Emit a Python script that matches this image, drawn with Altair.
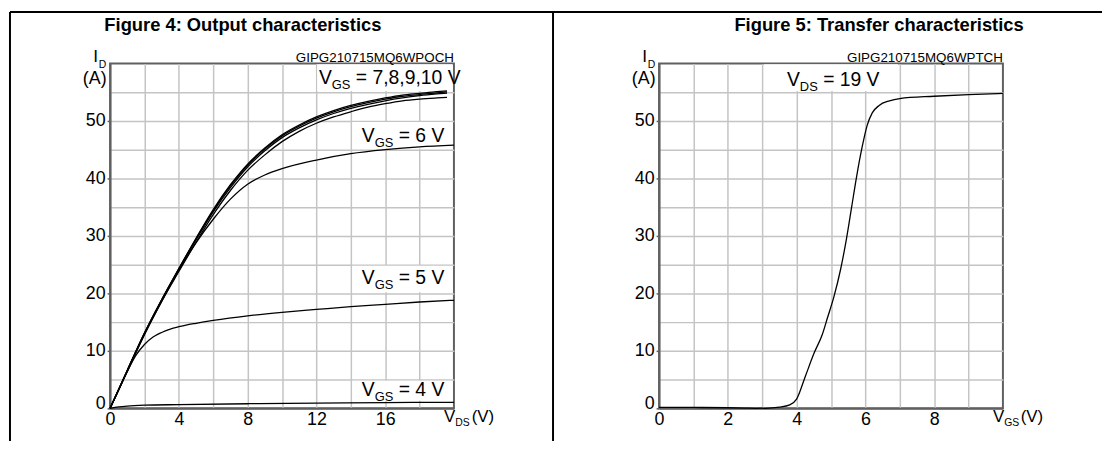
import altair as alt
import pandas as pd

# ---------------- data ----------------
# Figure 4: output characteristics, I_D (A) vs V_DS (V)
VDS_HI = [0, 1, 2, 3, 4, 5, 6, 7, 8, 9, 10, 11, 12, 13, 14, 15, 16, 17, 18, 19, 19.6]
ID_VGS10 = [0, 6.6, 13.1, 18.9, 24.3, 29.6, 34.6, 38.9, 42.5, 45.3, 47.6, 49.3, 50.7, 51.8, 52.7, 53.4, 54.0, 54.5, 54.8, 55.1, 55.25]
ID_VGS9 = [0, 6.6, 13.1, 18.9, 24.3, 29.5, 34.4, 38.7, 42.3, 45.1, 47.4, 49.1, 50.5, 51.6, 52.5, 53.2, 53.8, 54.3, 54.6, 54.9, 55.05]
ID_VGS8 = [0, 6.6, 13.0, 18.8, 24.1, 29.3, 34.2, 38.4, 42.0, 44.8, 47.1, 48.8, 50.2, 51.3, 52.2, 52.9, 53.5, 54.0, 54.4, 54.7, 54.85]
ID_VGS7 = [0, 6.5, 12.9, 18.6, 23.8, 28.9, 33.7, 37.9, 41.4, 44.1, 46.4, 48.2, 49.6, 50.7, 51.6, 52.4, 53.0, 53.5, 53.8, 54.0, 54.1]
VDS_6 = [0, 1, 2, 3, 4, 5, 6, 7, 8, 9, 10, 12, 14, 16, 18, 20]
ID_VGS6 = [0, 6.4, 12.8, 18.6, 24.0, 28.8, 32.9, 36.4, 39.0, 40.6, 41.7, 43.2, 44.3, 45.0, 45.5, 45.8]
VDS_5 = [0, 0.5, 1, 1.5, 2, 2.5, 3, 3.5, 4, 5, 6, 8, 10, 12, 14, 16, 18, 20]
ID_VGS5 = [0, 3.2, 6.4, 9.2, 11.1, 12.4, 13.2, 13.8, 14.2, 14.8, 15.3, 16.1, 16.7, 17.2, 17.7, 18.1, 18.5, 18.8]
VDS_4 = [0, 0.5, 1, 2, 4, 8, 12, 16, 20]
ID_VGS4 = [0, 0.25, 0.4, 0.55, 0.65, 0.8, 0.9, 1.0, 1.05]

# Figure 5: transfer characteristics, I_D (A) vs V_GS (V), V_DS = 19 V
VGS_T = [0, 1, 2, 2.5, 2.8, 3.2, 3.5, 3.8, 4.0, 4.25, 4.5, 4.75, 4.9, 5.08, 5.28, 5.45, 5.6, 5.75, 5.9, 6.05, 6.2, 6.4, 6.7, 7.0, 8, 9, 10]
ID_T = [0.15, 0.15, 0.1, 0.05, 0.0, 0.05, 0.2, 0.6, 1.6, 5.5, 9.5, 12.9, 15.8, 19.3, 24.2, 29.5, 35.0, 40.5, 45.3, 49.2, 51.4, 52.7, 53.5, 53.9, 54.3, 54.6, 54.8]

# axes / grids
X4_GRID = list(range(0, 21, 2))
X5_GRID = list(range(0, 11, 1))
Y_GRID = list(range(0, 61, 5))

# curve labels (V + subscript + rest), start x and baseline y in data units
OUT_LBL_X = [12.15, 14.64, 14.64, 14.64]
OUT_LBL_Y = [56.4, 46.3, 21.6, 2.1]
OUT_LBL_REST = ["= 7,8,9,10 V", "= 6 V", "= 5 V", "= 4 V"]
OUT_BOX_X0 = [12.05, 14.1, 14.1, 14.1]
OUT_BOX_X1 = [19.92, 19.92, 19.92, 19.92]
OUT_BOX_Y0 = [55.2, 45.2, 20.2, 1.3]
OUT_BOX_Y1 = [59.85, 49.8, 24.8, 4.8]

TR_LBL_X = [3.72]
TR_LBL_Y = [56.0]
TR_LBL_REST = ["= 19 V"]
TR_BOX_X0 = [3.05]
TR_BOX_X1 = [6.95]
TR_BOX_Y0 = [55.2]
TR_BOX_Y1 = [59.85]

# ---------------- styling ----------------
FONT = "Liberation Sans"
W, H = 347, 348
LBL_SIZE, SUB_SIZE = 19.5, 13
one = pd.DataFrame({"k": [0]})


def series(xs, ys, name):
    return pd.DataFrame({"v": xs, "i": ys, "s": name})


out_df = pd.concat([
    series(VDS_HI, ID_VGS10, "10"),
    series(VDS_HI, ID_VGS9, "9"),
    series(VDS_HI, ID_VGS8, "8"),
    series(VDS_HI, ID_VGS7, "7"),
    series(VDS_6, ID_VGS6, "6"),
    series(VDS_5, ID_VGS5, "5"),
    series(VDS_4, ID_VGS4, "4"),
], ignore_index=True)
tr_df = series(VGS_T, ID_T, "19")


def vtext(txt, x, y, size, align="left", weight="normal"):
    return alt.Chart(one).mark_text(
        text=txt, align=align, baseline="alphabetic", fontSize=size,
        fontWeight=weight, font=FONT, color="black"
    ).encode(x=alt.value(x), y=alt.value(y))


def vrule(x, x2, y, y2, w=2):
    return alt.Chart(one).mark_rule(color="black", strokeWidth=w).encode(
        x=alt.value(x), x2=alt.value(x2), y=alt.value(y), y2=alt.value(y2))


def panel(df, xmax, xgrid, every, lbl_x, lbl_y, lbl_rest, sub, subw,
          bx0, bx1, by0, by1, title, title_cx, code, xsub, extra):
    xscale = alt.Scale(domain=[0, xmax], nice=False, zero=False)
    yscale = alt.Scale(domain=[0, 60], nice=False, zero=False)
    xaxis = alt.Axis(
        values=xgrid, title=None, ticks=False, labelFlush=False, labelPadding=2,
        labelOverlap=False, labelFont=FONT, labelFontSize=18, labelColor="black",
        labelExpr=f"datum.value % {every} == 0 && datum.value < {xmax} ? datum.label : ''",
        gridOpacity={"condition": {"test": f"datum.value == 0 || datum.value == {xmax}", "value": 0}, "value": 1},
    )
    yaxis = alt.Axis(
        values=Y_GRID, title=None, tickSize=3, labelPadding=2, labelFlush=False,
        labelOverlap=False, labelFont=FONT, labelFontSize=18, labelColor="black",
        labelExpr="datum.value % 10 == 0 && datum.value < 60 ? datum.label : ''",
        tickOpacity={"condition": {"test": "datum.value % 10 == 0 && datum.value < 60", "value": 1}, "value": 0},
        labelBaseline={"condition": {"test": "datum.value == 0", "value": "alphabetic"}, "value": "middle"},
        gridOpacity={"condition": {"test": "datum.value == 0 || datum.value == 60", "value": 0}, "value": 1},
    )

    def X(f):
        return alt.X(f"{f}:Q", scale=xscale, axis=xaxis)

    def Y(f):
        return alt.Y(f"{f}:Q", scale=yscale, axis=yaxis)

    boxes = pd.DataFrame({"x0": bx0, "x1": bx1, "y0": by0, "y1": by1})
    labels = pd.DataFrame({"x": lbl_x, "y": lbl_y, "rest": lbl_rest, "sub": sub})

    v_w = 0.667 * LBL_SIZE
    space_w = 0.278 * LBL_SIZE

    box_layer = alt.Chart(boxes).mark_rect(color="white", strokeWidth=0).encode(
        x=X("x0"), x2="x1", y=Y("y0"), y2="y1")
    line_layer = alt.Chart(df).mark_line(
        color="black", strokeWidth=1.3, interpolate="monotone"
    ).encode(x=X("v"), y=Y("i"), detail="s:N")
    lbl_v = alt.Chart(labels).mark_text(
        text="V", align="left", baseline="alphabetic", fontSize=LBL_SIZE, font=FONT, color="black"
    ).encode(x=X("x"), y=Y("y"))
    lbl_sub = alt.Chart(labels).mark_text(
        align="left", baseline="alphabetic", fontSize=SUB_SIZE, font=FONT, color="black",
        dx=v_w, dy=5
    ).encode(x=X("x"), y=Y("y"), text="sub:N")
    lbl_rest = alt.Chart(labels).mark_text(
        align="left", baseline="alphabetic", fontSize=LBL_SIZE, font=FONT, color="black",
        dx=v_w + subw + space_w
    ).encode(x=X("x"), y=Y("y"), text="rest:N")

    deco = [
        vtext(title, title_cx, -33, 18.5, align="center", weight="bold"),
        vtext(code, W, -2, 13.5, align="right"),
        vtext("I", -12, -1, 17.5, align="right"),
        vtext("D", -11.5, 4.5, 10.5),
        vtext("(A)", -3.5, 20.5, 18, align="right"),
        vtext("V", 337, 362, 17),
        vtext(xsub, 348.3, 366, 10.5),
        vtext("(V)", 365, 362, 17),
    ] + extra
    return alt.layer(box_layer, line_layer, lbl_v, lbl_sub, lbl_rest, *deco).properties(
        width=W, height=H)


left = panel(
    out_df, 20, X4_GRID, 4, OUT_LBL_X, OUT_LBL_Y, OUT_LBL_REST, "GS", 1.445 * SUB_SIZE,
    OUT_BOX_X0, OUT_BOX_X1, OUT_BOX_Y0, OUT_BOX_Y1,
    "Figure 4: Output characteristics", 134, "GIPG210715MQ6WPOCH", "DS",
    [vrule(-101, -101, -52, 381), vrule(-101, 1001, -52, -52), vrule(447, 447, -52, 381)],
)
right = panel(
    tr_df, 10, X5_GRID, 2, TR_LBL_X, TR_LBL_Y, TR_LBL_REST, "DS", 1.389 * SUB_SIZE,
    TR_BOX_X0, TR_BOX_X1, TR_BOX_Y0, TR_BOX_Y1,
    "Figure 5: Transfer characteristics", 222, "GIPG210715MQ6WPTCH", "GS",
    [],
)

chart = alt.hconcat(left, right, spacing=207, bounds="flush").properties(
    padding=0, background="white"
).configure_view(
    stroke="#606060", strokeWidth=2
).configure_axis(
    labelFont=FONT, labelFontSize=18, labelColor="black",
    domainColor="#606060", domainWidth=2,
    gridColor="#c4c4c4", gridWidth=1.5,
    tickColor="#606060", tickWidth=1.5,
)

chart.save("out.html", embed_options={"renderer": "svg", "actions": False})
